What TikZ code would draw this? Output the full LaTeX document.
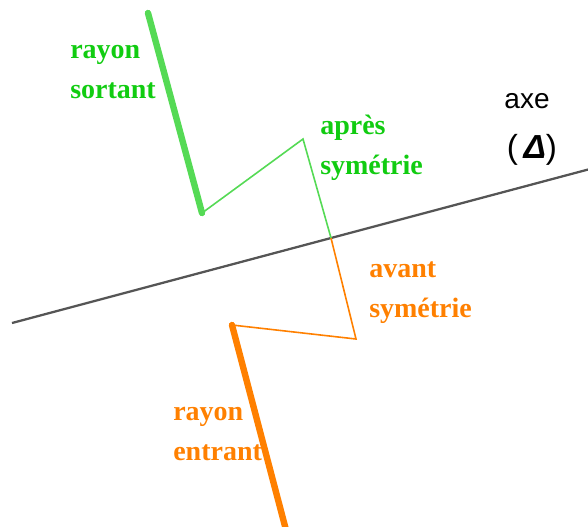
\documentclass[tikz,border=0pt]{standalone}
\usepackage{fontspec}
\setmainfont{Liberation Serif}
\newfontfamily\axefont{Liberation Sans}
\definecolor{vert}{RGB}{17,204,17}
\definecolor{vertclair}{RGB}{85,218,85}
\definecolor{orange}{RGB}{255,128,0}
\definecolor{gris}{RGB}{85,85,85}
\tikzset{
    label/.style={anchor=west, align=left, inner sep=0pt,
        font=\fontsize{21}{30}\selectfont\bfseries},
    rayon/.style={line width=4.8pt, line cap=round},
    trajet/.style={line width=1.2pt, line join=miter}
}
\begin{document}
\begin{tikzpicture}[x=0.75pt, y=-0.75pt]
        \useasboundingbox (0,0) rectangle (588,526);
        \clip (0,0) rectangle (588,526);

        % Axe
        \coordinate (ax1) at (12,323);
        \coordinate (ax2) at (590,169);
        \draw[gris, line width=1.7pt] (ax1) -- (ax2);
        \node[inner sep=0pt, font=\axefont\fontsize{21}{25}\selectfont] (axe) at (527,101) {axe};
        \node[inner sep=0pt, font=\axefont\fontsize{25}{30}\selectfont] (delta) at (532,150) {(\,\textbf{\textit{Δ}})};

        % Points du trajet
        \coordinate (ent) at (286,530);
        \coordinate (A) at (232,325);
        \coordinate (B) at (356,339);
        \coordinate (I) at (331,238);
        \coordinate (C) at (303,139);
        \coordinate (D) at (202,213);
        \coordinate (sor) at (148,13);

        % Avant symetrie
        \draw[orange, rayon] (ent) -- (A);
        \draw[orange, trajet] (A) -- (B) -- (I);

        % Apres symetrie
        \draw[vertclair, trajet] (I) -- (C) -- (D);
        \draw[vertclair, rayon] (D) -- (sor);

        % Textes
        \node[label, vert] (sortant) at (70,72) {rayon\\sortant};
        \node[label, vert] (apres) at (320,148) {après\\symétrie};
        \node[label, orange] (avant) at (369,293) {avant\\symétrie};
        \node[label, orange] (entrant) at (173,434) {rayon\\entrant};
    \end{tikzpicture}
\end{document}
